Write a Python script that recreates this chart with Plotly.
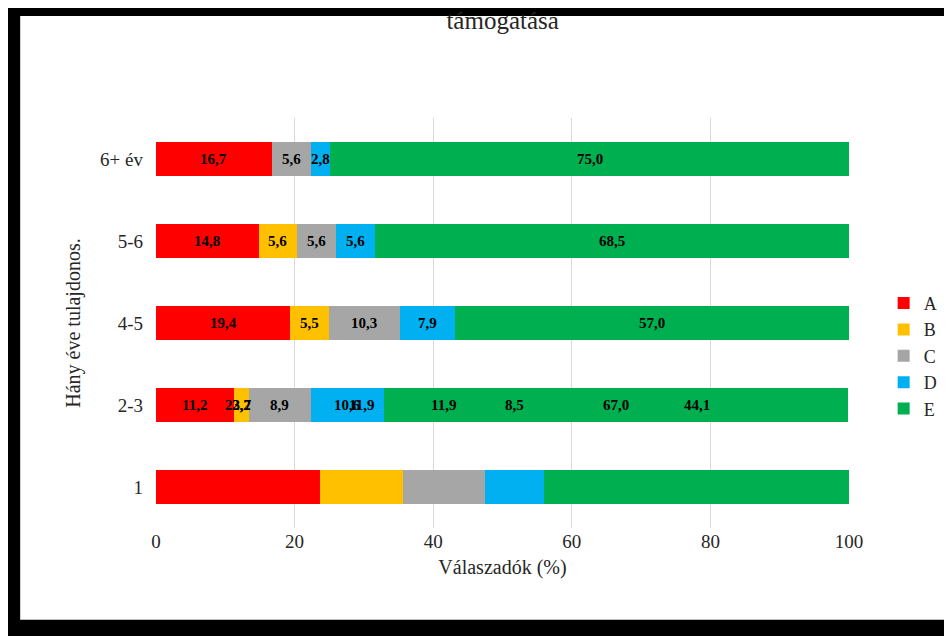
import plotly.graph_objects as go

categories = ["1", "2-3", "4-5", "5-6", "6+ év"]
series_names = ["A", "B", "C", "D", "E"]
A = [23.7, 11.2, 19.4, 14.8, 16.7]
B = [11.9, 2.2, 5.5, 5.6, None]
C = [11.9, 8.9, 10.3, 5.6, 5.6]
D = [8.5, 10.6, 7.9, 5.6, 2.8]
E = [44.1, 67.0, 57.0, 68.5, 75.0]
colors = ["#ff0000", "#ffc000", "#a6a6a6", "#00b0f0", "#00b050"]
tick_vals = [0, 20, 40, 60, 80, 100]

fig = go.Figure()
annotations = []
cum = [0.0] * len(categories)
for name, vals, col in zip(series_names, [A, B, C, D, E], colors):
    fig.add_trace(go.Bar(
        y=categories, x=vals, name=name, orientation="h",
        marker=dict(color=col, line=dict(width=0)),
    ))
    for i, v in enumerate(vals):
        if v is None:
            continue
        annotations.append(dict(
            x=cum[i] + v / 2, y=categories[i], xref="x", yref="y",
            text=f"{v:.1f}".replace(".", ","), showarrow=False,
            font=dict(family="Liberation Serif", size=15, color="black", weight="bold"),
        ))
        cum[i] += v

annotations.append(dict(
    text='Hány éve okostelefon tulajdonos - "digitális oktatás"<br>támogatása',
    xref="paper", yref="paper", x=0.5, y=1.2, xanchor="center", yanchor="bottom",
    showarrow=False, font=dict(size=25, color="#262626"),
))

fig.update_layout(
    barmode="stack", bargap=0.58,
    width=952, height=636,
    paper_bgcolor="black", plot_bgcolor="rgba(0,0,0,0)",
    margin=dict(l=148, r=111, t=110, b=116, autoexpand=False),
    font=dict(family="Liberation Serif", size=18, color="#262626"),
    xaxis=dict(range=[0, 100], tickvals=tick_vals, showgrid=True, gridcolor="#d9d9d9",
               zeroline=False, ticks="", tickfont=dict(size=19),
               title=dict(text="Válaszadók (%)", font=dict(size=20), standoff=8)),
    yaxis=dict(showgrid=False, ticks="", tickfont=dict(size=19), ticklabelstandoff=12,
               title=dict(text="Hány éve tulajdonos.", font=dict(size=20), standoff=14)),
    legend=dict(x=1.05, y=0.42, yanchor="middle", xanchor="left", traceorder="normal",
                font=dict(size=18), itemwidth=30, tracegroupgap=4,
                bgcolor="rgba(0,0,0,0)"),
    annotations=annotations,
    shapes=[dict(type="rect", xref="paper", yref="paper", layer="below",
                 x0=-0.196, x1=1.14, y0=-0.224, y1=1.249,
                 fillcolor="white", line=dict(width=0))],
)
fig.write_html("out.html")
